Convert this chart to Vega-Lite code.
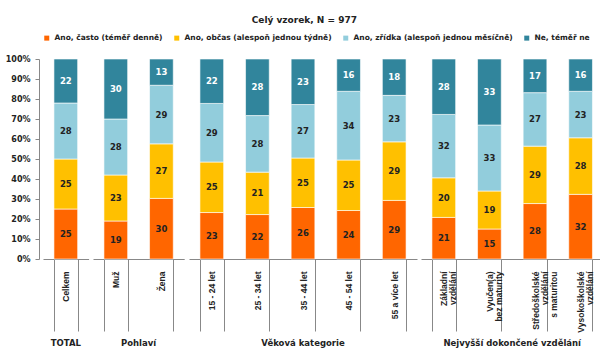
{
  "$schema": "https://vega.github.io/schema/vega-lite/v6.json",
  "padding": {"left": 5, "right": 5, "top": 16, "bottom": 0},
  "background": "white",
  "title": {"text": "Celý vzorek, N = 977", "fontSize": 9, "font": "DejaVu Sans", "fontWeight": "bold", "color": "#222", "anchor": "middle", "offset": 9},
  "data": {"values": [
    {"g": "TOTAL", "c": "Celkem", "r": 1, "resp": "Ano, často (téměř denně)", "v": 25},
    {"g": "TOTAL", "c": "Celkem", "r": 2, "resp": "Ano, občas (alespoň jednou týdně)", "v": 25},
    {"g": "TOTAL", "c": "Celkem", "r": 3, "resp": "Ano, zřídka (alespoň jednou měsíčně)", "v": 28},
    {"g": "TOTAL", "c": "Celkem", "r": 4, "resp": "Ne, téměř ne", "v": 22},
    {"g": "Pohlaví", "c": "Muž", "r": 1, "resp": "Ano, často (téměř denně)", "v": 19},
    {"g": "Pohlaví", "c": "Muž", "r": 2, "resp": "Ano, občas (alespoň jednou týdně)", "v": 23},
    {"g": "Pohlaví", "c": "Muž", "r": 3, "resp": "Ano, zřídka (alespoň jednou měsíčně)", "v": 28},
    {"g": "Pohlaví", "c": "Muž", "r": 4, "resp": "Ne, téměř ne", "v": 30},
    {"g": "Pohlaví", "c": "Žena", "r": 1, "resp": "Ano, často (téměř denně)", "v": 30},
    {"g": "Pohlaví", "c": "Žena", "r": 2, "resp": "Ano, občas (alespoň jednou týdně)", "v": 27},
    {"g": "Pohlaví", "c": "Žena", "r": 3, "resp": "Ano, zřídka (alespoň jednou měsíčně)", "v": 29},
    {"g": "Pohlaví", "c": "Žena", "r": 4, "resp": "Ne, téměř ne", "v": 13},
    {"g": "Věková kategorie", "c": "15 - 24 let", "r": 1, "resp": "Ano, často (téměř denně)", "v": 23},
    {"g": "Věková kategorie", "c": "15 - 24 let", "r": 2, "resp": "Ano, občas (alespoň jednou týdně)", "v": 25},
    {"g": "Věková kategorie", "c": "15 - 24 let", "r": 3, "resp": "Ano, zřídka (alespoň jednou měsíčně)", "v": 29},
    {"g": "Věková kategorie", "c": "15 - 24 let", "r": 4, "resp": "Ne, téměř ne", "v": 22},
    {"g": "Věková kategorie", "c": "25 - 34 let", "r": 1, "resp": "Ano, často (téměř denně)", "v": 22},
    {"g": "Věková kategorie", "c": "25 - 34 let", "r": 2, "resp": "Ano, občas (alespoň jednou týdně)", "v": 21},
    {"g": "Věková kategorie", "c": "25 - 34 let", "r": 3, "resp": "Ano, zřídka (alespoň jednou měsíčně)", "v": 28},
    {"g": "Věková kategorie", "c": "25 - 34 let", "r": 4, "resp": "Ne, téměř ne", "v": 28},
    {"g": "Věková kategorie", "c": "35 - 44 let", "r": 1, "resp": "Ano, často (téměř denně)", "v": 26},
    {"g": "Věková kategorie", "c": "35 - 44 let", "r": 2, "resp": "Ano, občas (alespoň jednou týdně)", "v": 25},
    {"g": "Věková kategorie", "c": "35 - 44 let", "r": 3, "resp": "Ano, zřídka (alespoň jednou měsíčně)", "v": 27},
    {"g": "Věková kategorie", "c": "35 - 44 let", "r": 4, "resp": "Ne, téměř ne", "v": 23},
    {"g": "Věková kategorie", "c": "45 - 54 let", "r": 1, "resp": "Ano, často (téměř denně)", "v": 24},
    {"g": "Věková kategorie", "c": "45 - 54 let", "r": 2, "resp": "Ano, občas (alespoň jednou týdně)", "v": 25},
    {"g": "Věková kategorie", "c": "45 - 54 let", "r": 3, "resp": "Ano, zřídka (alespoň jednou měsíčně)", "v": 34},
    {"g": "Věková kategorie", "c": "45 - 54 let", "r": 4, "resp": "Ne, téměř ne", "v": 16},
    {"g": "Věková kategorie", "c": "55 a více let", "r": 1, "resp": "Ano, často (téměř denně)", "v": 29},
    {"g": "Věková kategorie", "c": "55 a více let", "r": 2, "resp": "Ano, občas (alespoň jednou týdně)", "v": 29},
    {"g": "Věková kategorie", "c": "55 a více let", "r": 3, "resp": "Ano, zřídka (alespoň jednou měsíčně)", "v": 23},
    {"g": "Věková kategorie", "c": "55 a více let", "r": 4, "resp": "Ne, téměř ne", "v": 18},
    {"g": "Nejvyšší dokončené vzdělání", "c": "Základní\nvzdělání", "r": 1, "resp": "Ano, často (téměř denně)", "v": 21},
    {"g": "Nejvyšší dokončené vzdělání", "c": "Základní\nvzdělání", "r": 2, "resp": "Ano, občas (alespoň jednou týdně)", "v": 20},
    {"g": "Nejvyšší dokončené vzdělání", "c": "Základní\nvzdělání", "r": 3, "resp": "Ano, zřídka (alespoň jednou měsíčně)", "v": 32},
    {"g": "Nejvyšší dokončené vzdělání", "c": "Základní\nvzdělání", "r": 4, "resp": "Ne, téměř ne", "v": 28},
    {"g": "Nejvyšší dokončené vzdělání", "c": "Vyučen(a)\nbez maturity", "r": 1, "resp": "Ano, často (téměř denně)", "v": 15},
    {"g": "Nejvyšší dokončené vzdělání", "c": "Vyučen(a)\nbez maturity", "r": 2, "resp": "Ano, občas (alespoň jednou týdně)", "v": 19},
    {"g": "Nejvyšší dokončené vzdělání", "c": "Vyučen(a)\nbez maturity", "r": 3, "resp": "Ano, zřídka (alespoň jednou měsíčně)", "v": 33},
    {"g": "Nejvyšší dokončené vzdělání", "c": "Vyučen(a)\nbez maturity", "r": 4, "resp": "Ne, téměř ne", "v": 33},
    {"g": "Nejvyšší dokončené vzdělání", "c": "Středoškolské\nvzdělání\ns maturitou", "r": 1, "resp": "Ano, často (téměř denně)", "v": 28},
    {"g": "Nejvyšší dokončené vzdělání", "c": "Středoškolské\nvzdělání\ns maturitou", "r": 2, "resp": "Ano, občas (alespoň jednou týdně)", "v": 29},
    {"g": "Nejvyšší dokončené vzdělání", "c": "Středoškolské\nvzdělání\ns maturitou", "r": 3, "resp": "Ano, zřídka (alespoň jednou měsíčně)", "v": 27},
    {"g": "Nejvyšší dokončené vzdělání", "c": "Středoškolské\nvzdělání\ns maturitou", "r": 4, "resp": "Ne, téměř ne", "v": 17},
    {"g": "Nejvyšší dokončené vzdělání", "c": "Vysokoškolské\nvzdělání", "r": 1, "resp": "Ano, často (téměř denně)", "v": 32},
    {"g": "Nejvyšší dokončené vzdělání", "c": "Vysokoškolské\nvzdělání", "r": 2, "resp": "Ano, občas (alespoň jednou týdně)", "v": 28},
    {"g": "Nejvyšší dokončené vzdělání", "c": "Vysokoškolské\nvzdělání", "r": 3, "resp": "Ano, zřídka (alespoň jednou měsíčně)", "v": 23},
    {"g": "Nejvyšší dokončené vzdělání", "c": "Vysokoškolské\nvzdělání", "r": 4, "resp": "Ne, téměř ne", "v": 16}
  ]},
  "transform": [
    {"stack": "v", "groupby": ["c"], "sort": [{"field": "r", "order": "ascending"}], "offset": "normalize", "as": ["v0", "v1"]},
    {"calculate": "(datum.v0 + datum.v1) / 2", "as": "mid"}
  ],
  "facet": {
    "column": {
      "field": "g", "type": "nominal",
      "sort": ["TOTAL", "Pohlaví", "Věková kategorie", "Nejvyšší dokončené vzdělání"],
      "header": {"labelOrient": "bottom", "title": null, "labelFont": "DejaVu Sans", "labelFontWeight": "bold", "labelFontSize": 8.5, "labelColor": "#222", "labelPadding": 6}
    }
  },
  "spacing": 0,
  "resolve": {"scale": {"x": "independent"}},
  "spec": {
    "width": {"step": 45.6},
    "height": 200,
    "encoding": {
      "x": {
        "field": "c", "type": "nominal",
        "sort": ["Celkem", "Muž", "Žena", "15 - 24 let", "25 - 34 let", "35 - 44 let", "45 - 54 let", "55 a více let", "Základní\nvzdělání", "Vyučen(a)\nbez maturity", "Středoškolské\nvzdělání\ns maturitou", "Vysokoškolské\nvzdělání"],
        "scale": {"paddingInner": 0.48, "paddingOuter": 0.24},
        "axis": {
          "title": null, "labelAngle": -90, "labelFont": "Liberation Sans", "labelFontWeight": "bold", "labelFontSize": 8.5,
          "labelColor": "#222", "labelExpr": "split(datum.label, '\\n')", "labelLineHeight": 9,
          "tickBand": "extent", "tickSize": 72, "tickColor": "#888", "domainColor": "#888", "labelPadding": -60
        }
      }
    },
    "layer": [
      {
        "mark": {"type": "bar", "stroke": "white", "strokeWidth": 0.6},
        "encoding": {
          "y": {"field": "v0", "type": "quantitative", "scale": {"domain": [0, 1]}, "axis": {"title": null, "format": "%"}},
          "y2": {"field": "v1"},
          "color": {
            "field": "resp", "type": "nominal",
            "scale": {"domain": ["Ano, často (téměř denně)", "Ano, občas (alespoň jednou týdně)", "Ano, zřídka (alespoň jednou měsíčně)", "Ne, téměř ne"],
              "range": ["#FF6600", "#FFC000", "#92CDDC", "#31859C"]},
            "legend": {"title": null, "orient": "top", "direction": "horizontal", "symbolType": "square", "symbolSize": 25,
              "labelFont": "DejaVu Sans", "labelFontWeight": "bold", "labelFontSize": 7.5, "labelColor": "#222", "labelLimit": 250,
              "columnPadding": 10, "symbolStrokeWidth": 0, "offset": 13}
          }
        }
      },
      {
        "mark": {"type": "text", "font": "DejaVu Sans", "fontWeight": "bold", "fontSize": 8.5, "baseline": "middle"},
        "encoding": {
          "y": {"field": "mid", "type": "quantitative", "axis": {"title": null, "format": "%"}},
          "text": {"field": "v", "type": "quantitative"},
          "color": {"condition": {"test": "datum.r == 4", "value": "white"}, "value": "#222"}
        }
      }
    ]
  },
  "config": {
    "view": {"stroke": null},
    "axisY": {"grid": false, "labelOverlap": false, "tickCount": 10, "values": [0, 0.1, 0.2, 0.3, 0.4, 0.5, 0.6, 0.7, 0.8, 0.9, 1],
      "labelFont": "DejaVu Sans", "labelFontWeight": "bold", "labelFontSize": 8, "labelColor": "#222",
      "tickSize": 4, "tickColor": "#888", "domainColor": "#888", "labelPadding": 5}
  }
}
